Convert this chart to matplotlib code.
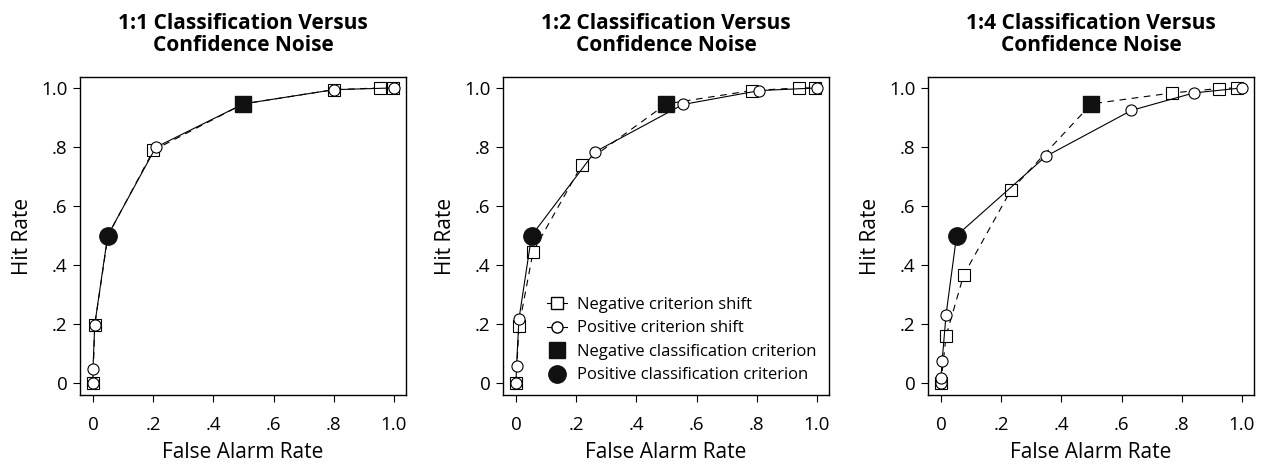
import matplotlib
matplotlib.use("Agg")
import matplotlib.pyplot as plt
from matplotlib.lines import Line2D

plt.rcParams['font.family'] = ['Open Sans', 'DejaVu Sans']

titles = ['1:1 Classification Versus\nConfidence Noise',
          '1:2 Classification Versus\nConfidence Noise',
          '1:4 Classification Versus\nConfidence Noise']

# negative criterion shift (squares, dashed)
neg_x = [
    [0.0, 0.006, 0.05, 0.201, 0.5, 0.8, 0.952, 0.997],
    [0.0, 0.01, 0.057, 0.218, 0.5, 0.783, 0.941, 0.993],
    [0.0, 0.017, 0.075, 0.232, 0.5, 0.768, 0.923, 0.983],
]
neg_y = [
    [0.0, 0.198, 0.5, 0.789, 0.946, 0.994, 1.0, 1.0],
    [0.0, 0.192, 0.446, 0.738, 0.946, 0.991, 1.0, 1.0],
    [0.0, 0.16, 0.365, 0.653, 0.946, 0.983, 0.998, 1.0],
]
# positive criterion shift (circles, solid)
pos_x = [
    [0.0, 0.0, 0.006, 0.049, 0.209, 0.5, 0.8, 1.0],
    [0.0, 0.002, 0.01, 0.052, 0.262, 0.555, 0.809, 1.0],
    [0.0, 0.0, 0.004, 0.017, 0.052, 0.348, 0.633, 0.84, 1.0],
]
pos_y = [
    [0.0, 0.047, 0.198, 0.5, 0.799, 0.946, 0.994, 1.0],
    [0.0, 0.059, 0.217, 0.5, 0.783, 0.944, 0.991, 1.0],
    [0.0, 0.017, 0.076, 0.232, 0.5, 0.768, 0.924, 0.983, 1.0],
]
# classification criterion points
neg_crit = [(0.5, 0.946), (0.5, 0.946), (0.5, 0.946)]
pos_crit = [(0.049, 0.5), (0.052, 0.5), (0.052, 0.5)]

ticks = [0, 0.2, 0.4, 0.6, 0.8, 1.0]
tick_labels = ['0', '.2', '.4', '.6', '.8', '1.0']

fig = plt.figure(figsize=(12.64, 4.67), dpi=100)
lefts = [80 / 1264, 503 / 1264, 928 / 1264]

for i in range(3):
    ax = fig.add_axes([lefts[i], 1 - 395 / 467, 326 / 1264, 318 / 467])
    ax.plot(neg_x[i], neg_y[i], color='black', lw=0.8, ls=(0, (6, 5)),
            marker='s', ms=8, mfc='white', mec='black', mew=0.8)
    ax.plot(pos_x[i], pos_y[i], color='black', lw=0.8, ls='-',
            marker='o', ms=8, mfc='white', mec='black', mew=0.8)
    ax.plot(*neg_crit[i], marker='s', ms=11.5, color='#111111', ls='none')
    ax.plot(*pos_crit[i], marker='o', ms=12.5, color='#111111', ls='none')

    ax.set_xlim(-0.043, 1.04)
    ax.set_ylim(-0.04, 1.037)
    ax.set_xticks(ticks)
    ax.set_xticklabels(tick_labels)
    ax.set_yticks(ticks)
    ax.set_yticklabels(tick_labels)
    ax.tick_params(direction='out', length=5, width=0.8, labelsize=13.5)
    ax.tick_params(axis='x', pad=10)
    ax.tick_params(axis='y', pad=4)
    for s in ax.spines.values():
        s.set_linewidth(1.0)
    ax.set_xlabel('False Alarm Rate', fontsize=15, labelpad=6)
    ax.set_ylabel('Hit Rate', fontsize=15, labelpad=6)
    ax.set_title(titles[i], fontsize=15, fontweight='bold', pad=19, linespacing=1.05)

    if i == 1:
        handles = [
            Line2D([], [], color='black', lw=0.8, marker='s', ms=8, mfc='white', mec='black'),
            Line2D([], [], color='black', lw=0.8, marker='o', ms=8, mfc='white', mec='black'),
            Line2D([], [], color='#111111', ls='none', marker='s', ms=11.5),
            Line2D([], [], color='#111111', ls='none', marker='o', ms=12.5),
        ]
        labels = ['Negative criterion shift', 'Positive criterion shift',
                  'Negative classification criterion', 'Positive classification criterion']
        ax.legend(handles, labels, loc='lower left', bbox_to_anchor=(0.1, 0.0),
                  frameon=False, fontsize=12, handlelength=1.2, handletextpad=0.6,
                  labelspacing=0.45, borderaxespad=0.3)

fig.savefig('out.png', dpi=100)
